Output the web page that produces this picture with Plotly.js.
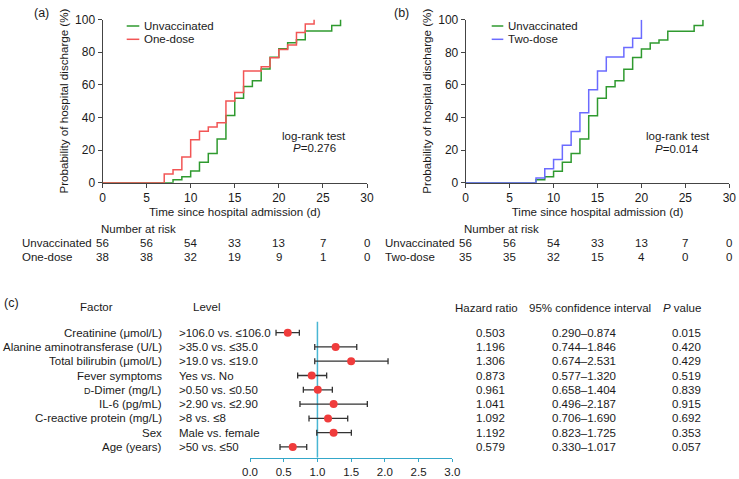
<!DOCTYPE html>
<html>
<head>
<meta charset="utf-8">
<script src="https://cdn.plot.ly/plotly-3.0.1.min.js"></script>
<style>html,body{margin:0;padding:0;background:#fff;}#chart{width:739px;height:479px;}</style>
</head>
<body>
<div id="chart"></div>
<script>
// ---------- Kaplan-Meier data (cumulative probability of discharge, %) ----------
const unvacTime = [0, 8, 9, 10, 11, 12, 13, 14, 15, 16, 17, 18, 19, 20, 21, 22, 23, 26, 27];
const unvacProb = [0, 1.8, 3.6, 7.1, 12.5, 17.9, 26.8, 41.1, 51.8, 58.9, 62.5, 69.6, 76.8, 82.1, 85.7, 87.6, 92.9, 96.4, 100];
const oneTime = [0, 7, 8, 9, 10, 11, 12, 13, 14, 15, 16, 18, 19, 20, 21, 22, 23, 24];
const oneProb = [0, 5.3, 7.9, 15.8, 26.3, 31.6, 34.2, 36.8, 50.0, 55.3, 68.4, 71.1, 76.5, 81.6, 84.3, 92.0, 97.3, 100];
const twoTime = [0, 8, 9, 10, 11, 12, 13, 14, 15, 16, 18, 19, 20];
const twoProb = [0, 2.9, 8.6, 14.3, 22.9, 31.4, 42.9, 57.1, 68.6, 77.1, 82.9, 88.6, 100];

// ---------- Number at risk ----------
const riskTimes = [0, 5, 10, 15, 20, 25, 30];
const riskUnvac = [56, 56, 54, 33, 13, 7, 0];
const riskOne = [38, 38, 32, 19, 9, 1, 0];
const riskTwo = [35, 35, 32, 15, 4, 0, 0];

// ---------- Forest plot ----------
const factors = ["Creatinine (μmol/L)", "Alanine aminotransferase (U/L)", "Total bilirubin (μmol/L)", "Fever symptoms",
  "<span style=\"font-size:9px\">D</span>-Dimer (mg/L)", "IL-6 (pg/mL)", "C-reactive protein (mg/L)", "Sex", "Age (years)"];
const levels = [">106.0 vs. ≤106.0", ">35.0 vs. ≤35.0", ">19.0 vs. ≤19.0", "Yes vs. No", ">0.50 vs. ≤0.50",
  ">2.90 vs. ≤2.90", ">8 vs. ≤8", "Male vs. female", ">50 vs. ≤50"];
const hrPlot = [0.56, 1.27, 1.50, 0.915, 1.005, 1.24, 1.157, 1.24, 0.634];
const loPlot = [0.386, 0.96, 0.96, 0.707, 0.791, 0.741, 0.875, 0.99, 0.445];
const hiPlot = [0.732, 1.583, 2.047, 1.137, 1.221, 1.74, 1.449, 1.503, 0.841];
const hrText = ["0.503", "1.196", "1.306", "0.873", "0.961", "1.041", "1.092", "1.192", "0.579"];
const ciText = ["0.290–0.874", "0.744–1.846", "0.674–2.531", "0.577–1.320", "0.658–1.404", "0.496–2.187", "0.706–1.690", "0.823–1.725", "0.330–1.017"];
const pText = ["0.015", "0.420", "0.429", "0.519", "0.839", "0.915", "0.692", "0.353", "0.057"];

// ---------- helpers (pixel -> paper) ----------
const W = 739, H = 479;
const fx = p => p / W;
const fy = p => 1 - p / H;
const FONT = "Liberation Sans, Arial, Helvetica, sans-serif";
const TXT = "#1a1a1a";
const GREEN = "#2f9a2f", RED = "#f25555", BLUE = "#6b6bff", TEAL = "#34a7c9";

const rows = factors.map((_, i) => factors.length - i); // 9..1

const traces = [
  {x: unvacTime, y: unvacProb, xaxis: "x", yaxis: "y", mode: "lines", line: {shape: "hv", color: GREEN, width: 1.5}, name: "Unvaccinated", showlegend: false},
  {x: oneTime, y: oneProb, xaxis: "x", yaxis: "y", mode: "lines", line: {shape: "hv", color: RED, width: 1.5}, name: "One-dose", showlegend: false},
  {x: unvacTime, y: unvacProb, xaxis: "x2", yaxis: "y2", mode: "lines", line: {shape: "hv", color: GREEN, width: 1.5}, name: "Unvaccinated", showlegend: false},
  {x: twoTime, y: twoProb, xaxis: "x2", yaxis: "y2", mode: "lines", line: {shape: "hv", color: BLUE, width: 1.5}, name: "Two-dose", showlegend: false},
  {x: hrPlot, y: rows, xaxis: "x3", yaxis: "y3", mode: "markers", showlegend: false,
   marker: {color: "#f03c3c", size: 8},
   error_x: {type: "data", symmetric: false, array: hiPlot.map((h, i) => h - hrPlot[i]), arrayminus: loPlot.map((l, i) => hrPlot[i] - l),
             color: "#333333", thickness: 1.3, width: 3}}
];

const kmX = (dom) => ({domain: dom, range: [0, 30], dtick: 5, showline: true, linecolor: "#444", linewidth: 1,
  ticks: "outside", ticklen: 4, tickcolor: "#444", tickfont: {size: 12, color: TXT}, showgrid: false, zeroline: false,
  layer: "below traces",
  title: {text: "Time since hospital admission (d)", font: {size: 11.6, color: TXT}, standoff: 0}});
const kmY = (dom) => ({domain: dom, range: [0, 100], dtick: 20, showline: true, linecolor: "#444", linewidth: 1,
  ticks: "outside", ticklen: 4, tickcolor: "#444", tickfont: {size: 12, color: TXT}, showgrid: false, zeroline: false,
  layer: "below traces",
  title: {text: "Probability of hospital discharge (%)", font: {size: 11.6, color: TXT}, standoff: 4}});

const ann = [];
const A = (text, x, y, opts) => ann.push(Object.assign({text, x: fx(x), y: fy(y), xref: "paper", yref: "paper", showarrow: false,
  font: {size: 11.5, color: TXT}, xanchor: "center", yanchor: "middle"}, opts || {}));

// panel labels
A("(a)", 41.7, 13.3, {font: {size: 12.5, color: TXT}});
A("(b)", 402, 12.7, {font: {size: 12.5, color: TXT}});
A("(c)", 11, 303, {font: {size: 12.5, color: TXT}});

// manual legends
A("Unvaccinated", 141.7, 26, {xanchor: "left"});
A("One-dose", 141.7, 39.3, {xanchor: "left"});
A("Unvaccinated", 505.7, 26, {xanchor: "left"});
A("Two-dose", 505.7, 39.3, {xanchor: "left"});

// log-rank
A("log-rank test", 314, 136);
A("<i>P</i>=0.276", 314, 148.5);
A("log-rank test", 678, 136);
A("<i>P</i>=0.014", 677, 149);

// risk tables
A("Number at risk", 99, 229, {xanchor: "left"});
A("Unvaccinated", 20, 243, {xanchor: "left"});
A("One-dose", 20, 256.5, {xanchor: "left"});
A("Number at risk", 462, 229, {xanchor: "left"});
A("Unvaccinated", 383, 243, {xanchor: "left"});
A("Two-dose", 383, 256.5, {xanchor: "left"});
riskTimes.forEach((t, i) => {
  const base = {xref: "x", yref: "paper", showarrow: false, font: {size: 11.5, color: TXT}, xanchor: "center", yanchor: "middle"};
  ann.push(Object.assign({}, base, {x: t, y: fy(243), text: String(riskUnvac[i])}));
  ann.push(Object.assign({}, base, {x: t, y: fy(256.5), text: String(riskOne[i])}));
  ann.push(Object.assign({}, base, {xref: "x2", x: t, y: fy(243), text: String(riskUnvac[i])}));
  ann.push(Object.assign({}, base, {xref: "x2", x: t, y: fy(256.5), text: String(riskTwo[i])}));
});

// forest headers
A("Factor", 96.7, 307);
A("Level", 206.7, 307);
A("Hazard ratio", 486, 308);
A("95% confidence interval", 590, 308);
A("<i>P</i> value", 682, 308);

// forest rows
factors.forEach((f, i) => {
  const base = {xref: "paper", yref: "y3", y: rows[i], showarrow: false, font: {size: 11.5, color: TXT}, yanchor: "middle"};
  ann.push(Object.assign({}, base, {x: fx(164), xanchor: "right", text: f}));
  ann.push(Object.assign({}, base, {x: fx(177.3), xanchor: "left", text: levels[i]}));
  ann.push(Object.assign({}, base, {x: fx(490), xanchor: "center", text: hrText[i]}));
  ann.push(Object.assign({}, base, {x: fx(584), xanchor: "center", text: ciText[i]}));
  ann.push(Object.assign({}, base, {x: fx(686), xanchor: "center", text: pText[i]}));
});

const shapes = [
  {type: "line", xref: "paper", yref: "paper", x0: fx(126.7), x1: fx(139.3), y0: fy(26), y1: fy(26), line: {color: GREEN, width: 1.5}},
  {type: "line", xref: "paper", yref: "paper", x0: fx(126.7), x1: fx(139.3), y0: fy(39.3), y1: fy(39.3), line: {color: RED, width: 1.5}},
  {type: "line", xref: "paper", yref: "paper", x0: fx(491.7), x1: fx(503.3), y0: fy(26), y1: fy(26), line: {color: GREEN, width: 1.5}},
  {type: "line", xref: "paper", yref: "paper", x0: fx(491.7), x1: fx(503.3), y0: fy(39.3), y1: fy(39.3), line: {color: BLUE, width: 1.5}},
  {type: "line", xref: "x3", yref: "y3 domain", x0: 1, x1: 1, y0: 0, y1: 1, line: {color: "#49b6d3", width: 1.5}, layer: "below"}
];

const layout = {
  width: W, height: H,
  margin: {l: 0, r: 0, t: 0, b: 0},
  paper_bgcolor: "#fff", plot_bgcolor: "rgba(0,0,0,0)",
  font: {family: FONT, color: TXT, size: 11.5},
  showlegend: false,
  xaxis: Object.assign(kmX([fx(102.5), fx(367)]), {anchor: "y"}),
  yaxis: Object.assign(kmY([fy(182.7), fy(19.5)]), {anchor: "x"}),
  xaxis2: Object.assign(kmX([fx(465.7), fx(729.3)]), {anchor: "y2"}),
  yaxis2: Object.assign(kmY([fy(182.7), fy(19.7)]), {anchor: "x2"}),
  xaxis3: {domain: [fx(250), fx(452.3)], anchor: "y3", range: [0, 3], dtick: 0.5, tickformat: ".1f",
    showline: true, linecolor: TEAL, linewidth: 1.3, ticks: "outside", ticklen: 3, tickcolor: TEAL,
    tickfont: {size: 11.5, color: TXT}, showgrid: false, zeroline: false},
  yaxis3: {domain: [fy(457.5), fy(321.7)], anchor: "x3", range: [0.263, 9.765], visible: false, showgrid: false, zeroline: false},
  annotations: ann,
  shapes: shapes
};

Plotly.newPlot("chart", traces, layout, {staticPlot: true, displayModeBar: false});
</script>
</body>
</html>
